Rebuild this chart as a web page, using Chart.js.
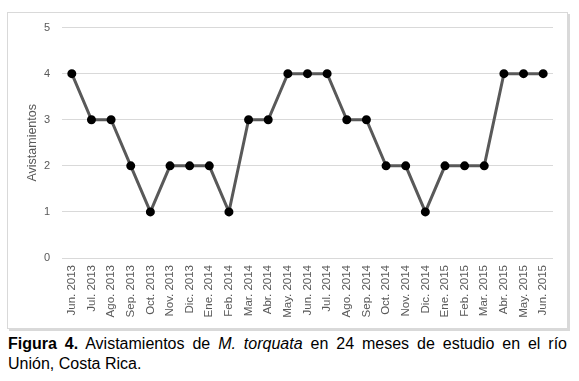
<!DOCTYPE html>
<html>
<head>
<meta charset="utf-8">
<script src="https://cdn.jsdelivr.net/npm/chart.js@4.4.0/dist/chart.umd.min.js"></script>
<style>
  body { margin: 0; background: #fff; }
  #caja {
    position: absolute; left: 7px; top: 12px; width: 559px; height: 315px;
    border: 1px solid #d9d9d9; box-shadow: 2px 2px 0 #d9d9d9;
  }
  #myChart { position: absolute; left: 0; top: -4px; }
  #leyenda {
    position: absolute; left: 8px; top: 334px; width: 559px; text-align: justify;
    font-family: "Liberation Sans", Arial, sans-serif; font-size: 16px; line-height: 20px; color: #000;
  }
</style>
</head>
<body>
<div id="caja"><canvas id="myChart" width="559" height="318"></canvas></div>
<div id="leyenda"><b>Figura 4.</b> Avistamientos de <i>M. torquata</i> en 24 meses de estudio en el río Unión, Costa Rica.</div>
<script>
// Meses del estudio
var meses = ['Jun. 2013', 'Jul. 2013', 'Ago. 2013', 'Sep. 2013', 'Oct. 2013', 'Nov. 2013', 'Dic. 2013',
  'Ene. 2014', 'Feb. 2014', 'Mar. 2014', 'Abr. 2014', 'May. 2014', 'Jun. 2014', 'Jul. 2014',
  'Ago. 2014', 'Sep. 2014', 'Oct. 2014', 'Nov. 2014', 'Dic. 2014', 'Ene. 2015', 'Feb. 2015',
  'Mar. 2015', 'Abr. 2015', 'May. 2015', 'Jun. 2015'];
// Avistamientos por mes
var avistamientos = [4, 3, 3, 2, 1, 2, 2, 2, 1, 3, 3, 4, 4, 4, 3, 3, 2, 2, 1, 2, 2, 2, 4, 4, 4];
var ticksY = [0, 1, 2, 3, 4, 5];

var fuente = "'Liberation Sans', Arial, sans-serif";
var ctx = document.getElementById('myChart').getContext('2d');
var myChart = new Chart(ctx, {
    type: 'line',
    data: {
        labels: meses,
        datasets: [{
            data: avistamientos,
            borderColor: '#595959',
            borderWidth: 3,
            pointBackgroundColor: '#000',
            pointBorderColor: '#000',
            pointRadius: 3,
            tension: 0
        }]
    },
    options: {
        responsive: false,
        animation: false,
        layout: { padding: { left: 12, right: 14, top: 8, bottom: 0 } },
        plugins: { legend: { display: false }, tooltip: { enabled: false } },
        scales: {
            x: {
                offset: true,
                grid: { display: false, drawTicks: false },
                border: { display: false },
                ticks: {
                    color: '#595959', minRotation: 90, maxRotation: 90, padding: 7,
                    font: { family: fuente, size: 11.5 }
                },
                afterFit: function (scale) { scale.height = 69; }
            },
            y: {
                min: 0, max: 5,
                afterBuildTicks: function (scale) {
                    scale.ticks = ticksY.map(function (v) { return { value: v }; });
                },
                grid: { color: '#d9d9d9', drawTicks: false, lineWidth: 1 },
                border: { display: false },
                ticks: { color: '#595959', padding: 12, font: { family: fuente, size: 11 } },
                title: {
                    display: true, text: 'Avistamientos', color: '#595959',
                    padding: { top: 5, bottom: 0 },
                    font: { family: fuente, size: 12.5 }
                },
                afterFit: function (scale) { scale.width = 42; }
            }
        }
    }
});
</script>
</body>
</html>
